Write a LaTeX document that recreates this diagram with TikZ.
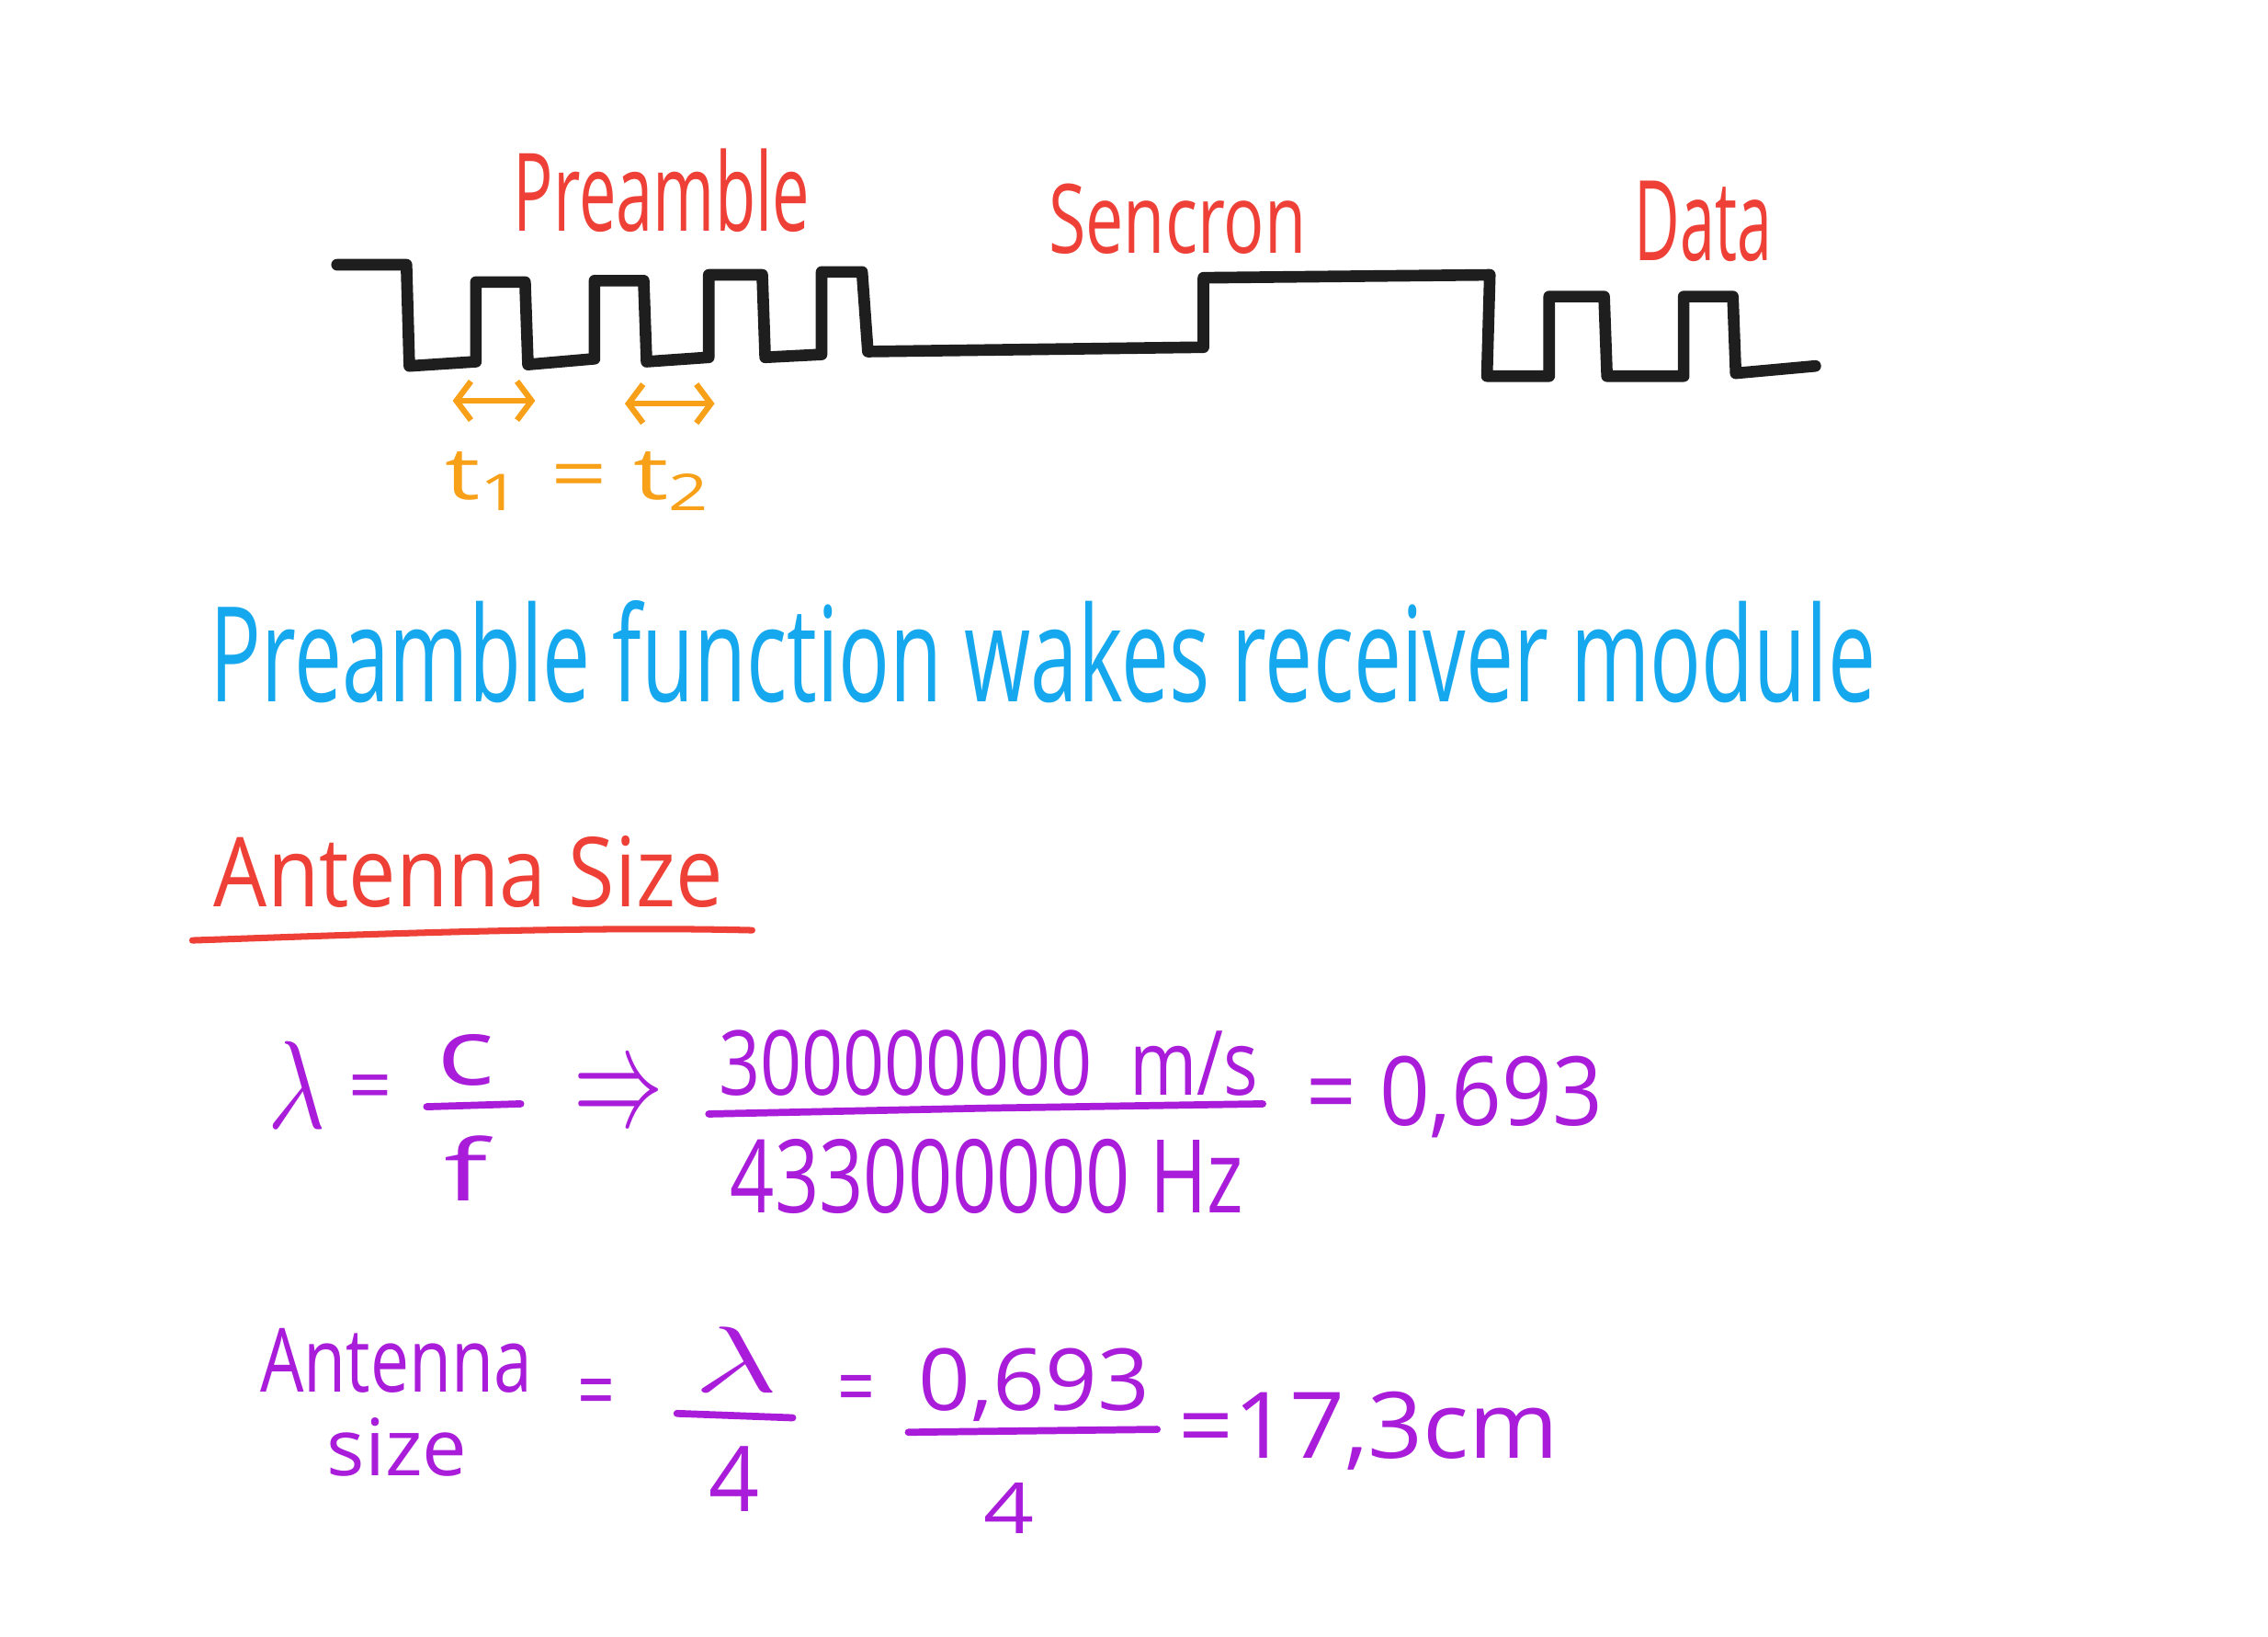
\documentclass[tikz,border=0pt]{standalone}
\usepackage{fontspec}
\setmainfont{Open Sans}
\usetikzlibrary{arrows.meta}
\newlength\hwu
\setlength\hwu{0.4476pt}
\newcommand\hwtext[3]{\resizebox{#1\hwu}{#2\hwu}{#3}}
\definecolor{hwred}{RGB}{238,64,54}
\definecolor{hworange}{RGB}{248,160,24}
\definecolor{hwblue}{RGB}{22,168,238}
\definecolor{hwpurple}{RGB}{168,28,218}
\definecolor{hwblack}{RGB}{30,30,30}
\begin{document}
\begin{tikzpicture}[x=0.1574mm,y=-0.1574mm,
  txt/.style={inner sep=0pt,outer sep=0pt,anchor=base west},
  redtxt/.style={txt,text=hwred},
  orangetxt/.style={txt,text=hworange},
  bluetxt/.style={txt,text=hwblue},
  purtxt/.style={txt,text=hwpurple},
  eqsign/.style={inner sep=0pt,text=hwpurple,anchor=center},
  wave/.style={draw=hwblack,line width=3.6pt,line join=round,line cap=round},
  tarrow/.style={draw=hworange,line width=1.8pt,line cap=round,
    {Straight Barb[length=4.5pt,width=12pt]}-{Straight Barb[length=4.5pt,width=12pt]}},
  fracbar/.style={draw=hwpurple,line width=2.2pt,line cap=round},
  underl/.style={draw=hwred,line width=2pt,line cap=round}]
\fill[white] (0,0) rectangle (1568,1131);
\useasboundingbox (0,0) rectangle (1568,1131);

% signal waveform
\draw[wave] (233,183) -- (281,183) -- (283,253) -- (329,250) -- (329,195) -- (363,195)
  -- (365,252) -- (411,248) -- (411,194) -- (445,194) -- (447,250) -- (490,247)
  -- (490,190) -- (527,190) -- (529,247) -- (568,245) -- (568,188) -- (596,188)
  -- (600,243) -- (832,240) -- (832,192) -- (1030,190) -- (1028,260) -- (1071,260)
  -- (1071,205) -- (1109,205) -- (1111,260) -- (1164,260) -- (1164,205) -- (1198,205)
  -- (1200,258) -- (1255,253);

% labels above waveform
\node[redtxt] (pre) at (355,160) {\hwtext{205}{57}{Preamble}};
\node[redtxt] (sen) at (725,175) {\hwtext{178}{48}{Sencron}};
\node[redtxt] (dat) at (1130,180) {\hwtext{95}{55}{Data}};

% t1 = t2
\coordinate (a1l) at (313,277);
\coordinate (a1r) at (370,277);
\coordinate (a2l) at (432,279);
\coordinate (a2r) at (494,279);
\draw[tarrow] (a1l) -- (a1r);
\draw[tarrow] (a2l) -- (a2r);
\node[orangetxt] (tt) at (308,345) {\hwtext{185}{33}{t\textsubscript{1} = t\textsubscript{2}}};

% blue sentence
\node[bluetxt] (func) at (145,485) {\hwtext{1152}{70}{Preamble function wakes receiver module}};

% antenna size heading
\node[redtxt] (ant) at (148,627) {\hwtext{352}{49}{Antenna Size}};
\draw[underl] (133,650) .. controls (250,646) and (400,640) .. (520,643);

% first equation
\node[purtxt] (lam) at (185,780) {\hwtext{40}{60}{$\lambda$}};
\node[eqsign] (eq1) at (256,756) {\hwtext{30}{26}{=}};
\node[purtxt] (cc) at (302,750) {\hwtext{40}{35}{c}};
\draw[fracbar] (295,765) -- (360,763);
\node[purtxt] (ff) at (307,830) {\hwtext{30}{45}{f}};
\node[eqsign] (impl) at (428,760) {\hwtext{62}{36}{$\Rightarrow$}};
\node[purtxt] (num1) at (497,757) {\hwtext{373}{45}{300000000\ \ m/s}};
\draw[fracbar] (490,770) -- (680,766) -- (873,763);
\node[purtxt] (den1) at (505,838) {\hwtext{355}{51}{433000000 Hz}};
\node[purtxt] (res1) at (903,778) {\hwtext{205}{48}{= 0,693}};

% second equation
\node[purtxt] (ant2) at (180,962) {\hwtext{188}{44}{Antenna}};
\node[purtxt] (size2) at (226,1020) {\hwtext{97}{40}{size}};
\node[eqsign] (eq2) at (412,967) {\hwtext{26}{28}{=}};
\node[purtxt] (lam2) at (480,962) {\hwtext{58}{45}{$\lambda$}};
\draw[fracbar] (468,977) -- (548,980);
\node[purtxt] (four1) at (490,1045) {\hwtext{35}{45}{4}};
\node[eqsign] (eq3) at (592,965) {\hwtext{26}{28}{=}};
\node[purtxt] (num2) at (635,975) {\hwtext{160}{43}{0,693}};
\draw[fracbar] (628,990) -- (800,988);
\node[purtxt] (four2) at (680,1060) {\hwtext{35}{35}{4}};
\node[purtxt] (res2) at (815,1008) {\hwtext{263}{46}{=17,3cm}};
\end{tikzpicture}
\end{document}
